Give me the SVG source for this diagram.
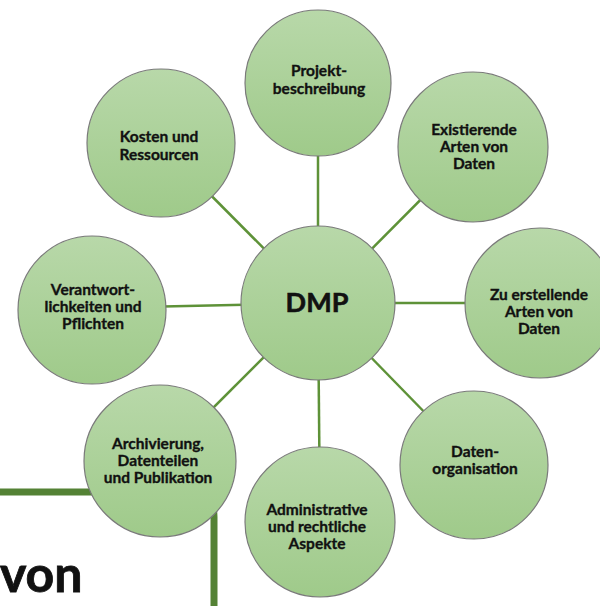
<svg xmlns="http://www.w3.org/2000/svg" width="600" height="606" viewBox="0 0 600 606">
<defs>
<linearGradient id="g" x1="0" y1="0" x2="0" y2="1">
<stop offset="0" stop-color="#b8d8a9"/>
<stop offset="1" stop-color="#9fca8a"/>
</linearGradient>
<style>
.n circle{fill:url(#g);stroke:#7a7a7a;stroke-width:1.2}
.n text{font-family:Lato,"Liberation Sans",sans-serif;font-weight:bold;font-size:15.5px;fill:#111;stroke:#111;stroke-width:0.35;text-anchor:middle}
.c line{stroke:#5e9238;stroke-width:2.5}
.deco{fill:none;stroke:#548235;stroke-width:7}
</style>
</defs>
<rect width="600" height="606" fill="#fff"/>
<path class="deco" d="M0,492 H189 Q214,492 214,517 V606"/>
<text x="0" y="592" style="font-family:Lato,'Liberation Sans',sans-serif;font-weight:bold;font-size:50px;fill:#111;stroke:#111;stroke-width:0.8">von</text>
<g class="c" id="connectors">
<line x1="318" y1="303" x2="318" y2="83"/>
<line x1="318" y1="303" x2="473" y2="147"/>
<line x1="318" y1="303" x2="540" y2="303"/>
<line x1="318" y1="303" x2="474" y2="463"/>
<line x1="318" y1="303" x2="320" y2="522"/>
<line x1="318" y1="303" x2="160" y2="461"/>
<line x1="318" y1="303" x2="93" y2="308"/>
<line x1="318" y1="303" x2="161" y2="145"/>
</g>
<g class="n" id="projekt"><circle cx="318" cy="83" r="73"/><text x="319" y="76">Projekt-</text><text x="319" y="94">beschreibung</text></g>
<g class="n" id="existierende"><circle cx="473" cy="147" r="75"/><text x="474" y="135">Existierende</text><text x="474" y="152">Arten von</text><text x="474" y="169">Daten</text></g>
<g class="n" id="zu-erstellende"><circle cx="540" cy="303" r="75"/><text x="539" y="300">Zu erstellende</text><text x="539" y="317">Arten von</text><text x="539" y="334">Daten</text></g>
<g class="n" id="datenorg"><circle cx="474" cy="465" r="74"/><text x="475" y="457">Daten-</text><text x="475" y="474">organisation</text></g>
<g class="n" id="administrative"><circle cx="320" cy="522" r="75"/><text x="317" y="515">Administrative</text><text x="317" y="532">und rechtliche</text><text x="317" y="549">Aspekte</text></g>
<g class="n" id="archivierung"><circle cx="160" cy="461" r="76"/><text x="158" y="449">Archivierung,</text><text x="158" y="466">Datenteilen</text><text x="158" y="483">und Publikation</text></g>
<g class="n" id="verantwort"><circle cx="92" cy="310" r="74"/><text x="93" y="295">Verantwort-</text><text x="93" y="312">lichkeiten und</text><text x="93" y="329">Pflichten</text></g>
<g class="n" id="kosten"><circle cx="161" cy="143" r="74"/><text x="159" y="142">Kosten und</text><text x="159" y="160">Ressourcen</text></g>
<g class="n" id="dmp"><circle cx="318" cy="303" r="77"/><text x="317" y="312" style="font-size:27px;stroke-width:0.6">DMP</text></g>
</svg>
